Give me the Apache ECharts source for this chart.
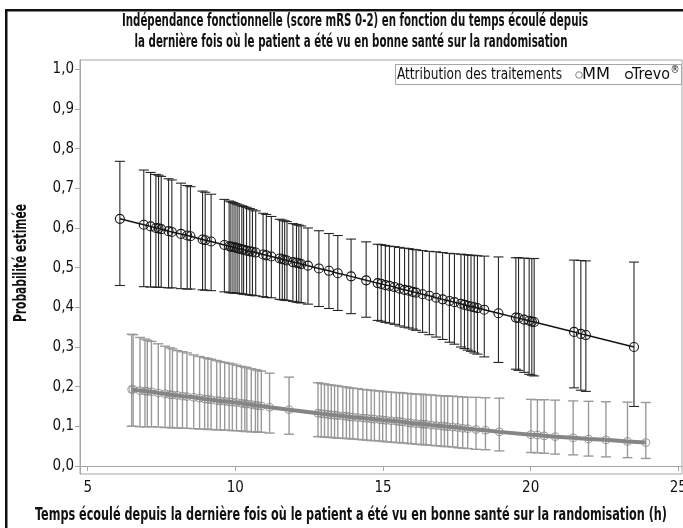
<!DOCTYPE html>
<html>
<head>
<meta charset="utf-8">
<script src="https://cdn.jsdelivr.net/npm/echarts@6/dist/echarts.min.js"></script>
<style>
  html, body { margin: 0; padding: 0; background: #fff; }
  #chart { width: 683px; height: 528px; }
</style>
</head>
<body>
<div id="chart"></div>
<script>
// Texts
const titleLines = [
  'Indépendance fonctionnelle (score mRS 0-2) en fonction du temps écoulé depuis',
  'la dernière fois où le patient a été vu en bonne santé sur la randomisation'
];
const xTitle = 'Temps écoulé depuis la dernière fois où le patient a été vu en bonne santé sur la randomisation (h)';
const yTitle = 'Probabilité estimée';
const legendTitle = 'Attribution des traitements';
const groupNames = ['MM', 'Trevo'];

// Tick values
const xTicks = [5, 10, 15, 20, 25];
const yTicks = [0, 0.1, 0.2, 0.3, 0.4, 0.5, 0.6, 0.7, 0.8, 0.9, 1.0];

// Trevo® group: hours, estimated probability, lower and upper bound
const trevoHours = [6.09, 6.90, 7.13, 7.31, 7.40, 7.49, 7.74, 7.85, 8.16, 8.37, 8.48, 8.89, 8.98, 9.18, 9.63, 9.79, 9.85, 9.92, 9.99, 10.06,
  10.13, 10.22, 10.28, 10.38, 10.49, 10.58, 10.69, 10.94, 11.05, 11.22, 11.50, 11.59, 11.67, 11.75, 11.95, 12.07, 12.15, 12.23, 12.46, 12.83,
  13.17, 13.47, 13.92, 14.43, 14.82, 14.94, 15.08, 15.22, 15.39, 15.56, 15.73, 15.87, 16.01, 16.12, 16.34, 16.57, 16.80, 17.02, 17.25, 17.42,
  17.64, 17.76, 17.87, 17.98, 18.09, 18.20, 18.43, 18.91, 19.50, 19.59, 19.78, 19.95, 20.04, 20.12, 21.47, 21.70, 21.87, 23.50];
const trevoProb = [0.623, 0.608, 0.604, 0.600, 0.599, 0.597, 0.592, 0.590, 0.585, 0.581, 0.579, 0.571, 0.569, 0.566, 0.557, 0.554, 0.553, 0.552, 0.551, 0.549,
  0.548, 0.546, 0.545, 0.543, 0.541, 0.540, 0.538, 0.533, 0.531, 0.528, 0.523, 0.521, 0.520, 0.518, 0.514, 0.512, 0.511, 0.509, 0.505, 0.498,
  0.492, 0.486, 0.478, 0.468, 0.461, 0.459, 0.456, 0.454, 0.451, 0.447, 0.444, 0.442, 0.439, 0.437, 0.433, 0.429, 0.424, 0.420, 0.416, 0.413,
  0.409, 0.406, 0.404, 0.402, 0.400, 0.398, 0.394, 0.385, 0.374, 0.373, 0.369, 0.366, 0.364, 0.363, 0.338, 0.333, 0.330, 0.300];
const trevoLow = [0.455, 0.452, 0.451, 0.451, 0.450, 0.450, 0.449, 0.449, 0.447, 0.446, 0.446, 0.444, 0.443, 0.442, 0.439, 0.437, 0.437, 0.436, 0.436, 0.435,
  0.435, 0.434, 0.433, 0.432, 0.431, 0.430, 0.429, 0.427, 0.425, 0.424, 0.420, 0.419, 0.418, 0.417, 0.415, 0.413, 0.412, 0.411, 0.408, 0.402,
  0.397, 0.392, 0.384, 0.375, 0.367, 0.365, 0.362, 0.360, 0.357, 0.353, 0.350, 0.348, 0.345, 0.342, 0.337, 0.331, 0.325, 0.319, 0.312, 0.307,
  0.300, 0.296, 0.292, 0.289, 0.285, 0.282, 0.275, 0.261, 0.244, 0.241, 0.236, 0.231, 0.229, 0.227, 0.197, 0.191, 0.188, 0.150];
const trevoHigh = [0.768, 0.746, 0.740, 0.735, 0.733, 0.730, 0.724, 0.721, 0.713, 0.707, 0.704, 0.693, 0.690, 0.685, 0.672, 0.668, 0.666, 0.664, 0.662, 0.660,
  0.658, 0.656, 0.654, 0.652, 0.649, 0.646, 0.643, 0.637, 0.634, 0.629, 0.622, 0.620, 0.618, 0.616, 0.611, 0.609, 0.607, 0.605, 0.600, 0.593,
  0.586, 0.581, 0.572, 0.565, 0.559, 0.558, 0.556, 0.554, 0.553, 0.551, 0.549, 0.548, 0.546, 0.545, 0.543, 0.541, 0.540, 0.538, 0.536, 0.535,
  0.534, 0.533, 0.532, 0.531, 0.531, 0.530, 0.529, 0.527, 0.525, 0.525, 0.524, 0.523, 0.523, 0.523, 0.519, 0.518, 0.517, 0.514];

// MM group: hours, estimated probability, lower and upper bound
const mmHours = [6.49, 6.54, 6.77, 6.94, 7.02, 7.16, 7.39, 7.62, 7.78, 7.87, 8.03, 8.21, 8.36, 8.59, 8.79, 8.96, 9.07, 9.18, 9.37, 9.49,
  9.64, 9.79, 9.90, 10.04, 10.21, 10.32, 10.39, 10.54, 10.68, 10.76, 10.88, 11.16, 11.82, 12.80, 12.91, 13.02, 13.14, 13.25, 13.36, 13.47,
  13.64, 13.76, 13.87, 13.98, 14.15, 14.32, 14.45, 14.60, 14.71, 14.88, 14.99, 15.11, 15.28, 15.45, 15.56, 15.67, 15.84, 15.95, 16.12, 16.29,
  16.37, 16.46, 16.63, 16.80, 16.97, 17.08, 17.19, 17.36, 17.53, 17.70, 17.87, 18.15, 18.47, 18.94, 20.01, 20.23, 20.46, 20.83, 21.44, 21.96,
  22.55, 23.28, 23.90];
const mmProb = [0.193, 0.193, 0.190, 0.189, 0.188, 0.187, 0.184, 0.182, 0.180, 0.179, 0.178, 0.176, 0.175, 0.173, 0.171, 0.169, 0.168, 0.167, 0.165, 0.164,
  0.163, 0.162, 0.161, 0.160, 0.158, 0.157, 0.156, 0.155, 0.153, 0.152, 0.151, 0.148, 0.142, 0.133, 0.132, 0.131, 0.130, 0.129, 0.128, 0.127,
  0.126, 0.125, 0.124, 0.123, 0.122, 0.121, 0.120, 0.119, 0.118, 0.117, 0.116, 0.115, 0.114, 0.113, 0.112, 0.111, 0.109, 0.108, 0.107, 0.106,
  0.105, 0.105, 0.103, 0.102, 0.101, 0.100, 0.099, 0.098, 0.097, 0.095, 0.094, 0.092, 0.090, 0.086, 0.079, 0.078, 0.076, 0.074, 0.071, 0.068,
  0.066, 0.062, 0.059];
const mmLow = [0.100, 0.100, 0.099, 0.099, 0.099, 0.099, 0.098, 0.097, 0.097, 0.096, 0.096, 0.095, 0.095, 0.094, 0.093, 0.093, 0.092, 0.092, 0.091, 0.091,
  0.090, 0.090, 0.089, 0.089, 0.088, 0.087, 0.087, 0.086, 0.086, 0.085, 0.085, 0.083, 0.080, 0.074, 0.074, 0.073, 0.072, 0.072, 0.071, 0.070,
  0.070, 0.069, 0.069, 0.068, 0.067, 0.066, 0.065, 0.064, 0.064, 0.063, 0.062, 0.061, 0.060, 0.059, 0.059, 0.058, 0.057, 0.056, 0.055, 0.054,
  0.054, 0.053, 0.052, 0.051, 0.050, 0.049, 0.049, 0.048, 0.046, 0.045, 0.044, 0.042, 0.041, 0.038, 0.034, 0.033, 0.032, 0.030, 0.028, 0.025,
  0.023, 0.021, 0.019];
const mmHigh = [0.332, 0.331, 0.324, 0.320, 0.317, 0.314, 0.308, 0.302, 0.298, 0.295, 0.291, 0.288, 0.285, 0.280, 0.276, 0.273, 0.271, 0.269, 0.266, 0.263,
  0.261, 0.259, 0.257, 0.254, 0.251, 0.249, 0.248, 0.245, 0.243, 0.241, 0.239, 0.234, 0.224, 0.210, 0.208, 0.207, 0.205, 0.204, 0.203, 0.202,
  0.200, 0.199, 0.197, 0.196, 0.195, 0.193, 0.192, 0.191, 0.190, 0.189, 0.188, 0.187, 0.186, 0.185, 0.185, 0.184, 0.183, 0.182, 0.181, 0.181,
  0.180, 0.180, 0.179, 0.178, 0.177, 0.177, 0.176, 0.176, 0.175, 0.174, 0.173, 0.173, 0.172, 0.171, 0.168, 0.167, 0.167, 0.166, 0.164, 0.163,
  0.162, 0.161, 0.160];

const FONT = '"DejaVu Sans Condensed", "DejaVu Sans", sans-serif';
const INK = '#111';
const BLACK = '#151515';
const GREY = '#858585';
const AXIS = '#a6a6a6';

const pairs = (xs, ys) => xs.map((x, i) => [x, ys[i]]);
const bars = (xs, lo, hi) => xs.map((x, i) => [x, lo[i], hi[i]]);

// horizontal squeeze so a string in the condensed face spans a given width
const measureCtx = document.createElement('canvas').getContext('2d');
function squeeze(text, font, width) {
  measureCtx.font = font;
  return width / measureCtx.measureText(text).width;
}
function narrowText(text, font, x, y, width, extra) {
  const s = squeeze(text, font, width);
  return Object.assign({
    type: 'text', x: x, y: y, scaleX: s, scaleY: 1,
    style: { text: text, font: font, fill: INK, align: 'center', verticalAlign: 'middle' }
  }, extra || {});
}

// Vertical interval with caps, positioned through the axis scales
function errorBar(color, width, cap) {
  return function (params, api) {
    const x = api.value(0);
    const a = api.coord([x, api.value(1)]);
    const b = api.coord([x, api.value(2)]);
    const style = { stroke: color, lineWidth: width, fill: null };
    return {
      type: 'group',
      children: [
        { type: 'line', shape: { x1: a[0], y1: a[1], x2: b[0], y2: b[1] }, style },
        { type: 'line', shape: { x1: b[0] - cap, y1: b[1], x2: b[0] + cap, y2: b[1] }, style },
        { type: 'line', shape: { x1: a[0] - cap, y1: a[1], x2: a[0] + cap, y2: a[1] }, style }
      ]
    };
  };
}

const fmtDec = v => v.toFixed(1).replace('.', ',');
const BOLD = 'bold 17px ' + FONT;
const REG = '16px ' + FONT;

const yTitleEl = narrowText(yTitle, BOLD, 22, 263, 118);
yTitleEl.rotation = Math.PI / 2;

// legend glyphs
const legendEls = [
  { type: 'rect', shape: { x: 395.5, y: 64.5, width: 286, height: 20 }, style: { fill: '#fff', stroke: AXIS, lineWidth: 1 }, z: 50 },
  narrowText(legendTitle, REG, 479.5, 75, 165, { z: 51 }),
  { type: 'circle', shape: { cx: 579, cy: 75, r: 3.3 }, style: { fill: null, stroke: GREY, lineWidth: 1 }, z: 51 },
  narrowText(groupNames[0], REG, 596, 75, 28, { z: 51 }),
  { type: 'circle', shape: { cx: 629, cy: 75, r: 3.3 }, style: { fill: null, stroke: BLACK, lineWidth: 1.2 }, z: 51 },
  narrowText(groupNames[1], REG, 651, 75, 38, { z: 51 }),
  { type: 'text', x: 675, y: 70, style: { text: '®', font: '10px ' + FONT, fill: INK, align: 'center', verticalAlign: 'middle' }, z: 51 }
];

const chart = echarts.init(document.getElementById('chart'), null, { renderer: 'canvas' });

chart.setOption({
  animation: false,
  backgroundColor: '#fff',
  textStyle: { fontFamily: FONT },
  grid: {
    left: 80, right: 1, top: 60, bottom: 54,
    containLabel: false, outerBoundsMode: 'none',
    show: true, borderColor: AXIS, borderWidth: 1, backgroundColor: 'transparent'
  },
  xAxis: {
    type: 'value', min: 4.74, max: 25.126,
    axisLine: { lineStyle: { color: AXIS } },
    axisTick: { show: true, length: 5, customValues: xTicks, lineStyle: { color: AXIS } },
    axisLabel: { customValues: xTicks, fontFamily: FONT, fontSize: 15, color: INK, margin: 7, alignMaxLabel: 'center', alignMinLabel: 'center' },
    splitLine: { show: false }
  },
  yAxis: {
    type: 'value', min: -0.0202, max: 1.0234,
    axisLine: { show: true, lineStyle: { color: AXIS } },
    axisTick: { show: true, length: 5, customValues: yTicks, lineStyle: { color: AXIS } },
    axisLabel: { customValues: yTicks, formatter: fmtDec, fontFamily: FONT, fontSize: 15, color: INK, margin: 6 },
    splitLine: { show: false }
  },
  graphic: [
    // outer frame (top and left edges)
    { type: 'rect', shape: { x: 5, y: 9, width: 2.5, height: 530 }, style: { fill: INK } },
    { type: 'rect', shape: { x: 5, y: 9, width: 690, height: 2.5 }, style: { fill: INK } },
    // titles
    narrowText(titleLines[0], BOLD, 355, 21.5, 466),
    narrowText(titleLines[1], BOLD, 351, 43, 433),
    narrowText(xTitle, BOLD, 351, 516, 632),
    yTitleEl
  ].concat(legendEls),
  series: [
    {
      name: 'MM', type: 'custom', renderItem: errorBar('#9a9a9a', 1.4, 5),
      data: bars(mmHours, mmLow, mmHigh), encode: { x: 0, y: [1, 2] }, z: 2, silent: true
    },
    {
      name: 'MM', type: 'scatter', data: pairs(mmHours, mmProb), symbol: 'circle', symbolSize: 8,
      itemStyle: { color: 'transparent', borderColor: GREY, borderWidth: 1 }, z: 3
    },
    {
      name: 'MM', type: 'line', data: pairs(mmHours, mmProb), showSymbol: false,
      lineStyle: { color: GREY, width: 4 }, itemStyle: { color: GREY }, z: 4
    },
    {
      name: 'Trevo®', type: 'custom', renderItem: errorBar('#262626', 1.1, 5),
      data: bars(trevoHours, trevoLow, trevoHigh), encode: { x: 0, y: [1, 2] }, z: 5, silent: true
    },
    {
      name: 'Trevo®', type: 'line', data: pairs(trevoHours, trevoProb), symbol: 'circle', symbolSize: 9,
      lineStyle: { color: BLACK, width: 1.5 },
      itemStyle: { color: 'transparent', borderColor: BLACK, borderWidth: 1.1 }, z: 6
    }
  ]
});
</script>
</body>
</html>
